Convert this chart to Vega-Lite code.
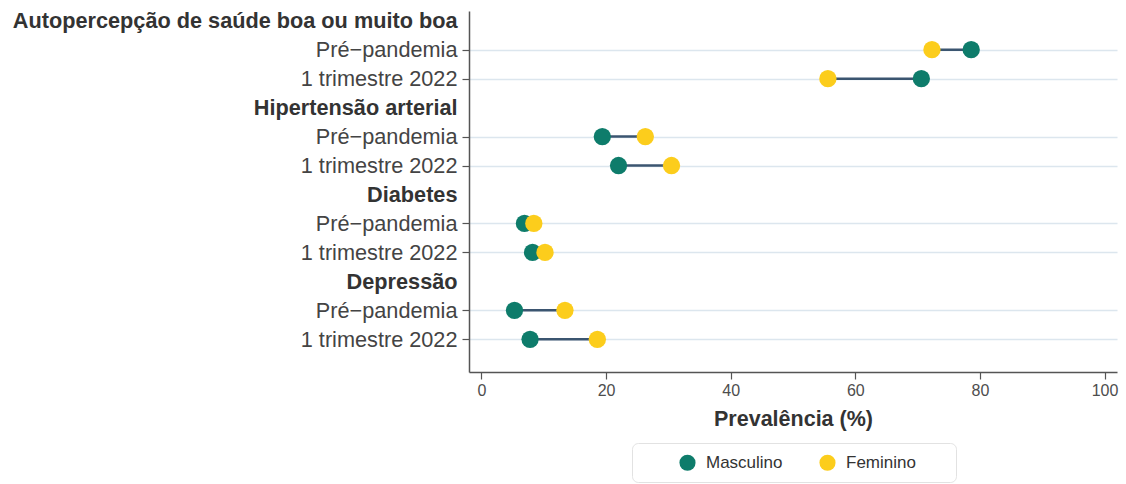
{
  "$schema": "https://vega.github.io/schema/vega-lite/v6.json",
  "width": 648,
  "height": 361,
  "autosize": {"type": "none"},
  "padding": {"left": 469, "top": 11, "right": 9, "bottom": 112},
  "background": "white",
  "config": {
    "view": {"stroke": null},
    "font": "Liberation Sans"
  },
  "data": {
    "values": [
      {"row": "Autopercepção|Pré−pandemia", "sexo": "Masculino", "value": 78.6},
      {"row": "Autopercepção|1 trimestre 2022", "sexo": "Masculino", "value": 70.6},
      {"row": "Hipertensão|Pré−pandemia", "sexo": "Masculino", "value": 19.4},
      {"row": "Hipertensão|1 trimestre 2022", "sexo": "Masculino", "value": 22.0},
      {"row": "Diabetes|Pré−pandemia", "sexo": "Masculino", "value": 6.9},
      {"row": "Diabetes|1 trimestre 2022", "sexo": "Masculino", "value": 8.2},
      {"row": "Depressão|Pré−pandemia", "sexo": "Masculino", "value": 5.3},
      {"row": "Depressão|1 trimestre 2022", "sexo": "Masculino", "value": 7.8},
      {"row": "Autopercepção|Pré−pandemia", "sexo": "Feminino", "value": 72.3},
      {"row": "Autopercepção|1 trimestre 2022", "sexo": "Feminino", "value": 55.6},
      {"row": "Hipertensão|Pré−pandemia", "sexo": "Feminino", "value": 26.3},
      {"row": "Hipertensão|1 trimestre 2022", "sexo": "Feminino", "value": 30.5},
      {"row": "Diabetes|Pré−pandemia", "sexo": "Feminino", "value": 8.4},
      {"row": "Diabetes|1 trimestre 2022", "sexo": "Feminino", "value": 10.2},
      {"row": "Depressão|Pré−pandemia", "sexo": "Feminino", "value": 13.4},
      {"row": "Depressão|1 trimestre 2022", "sexo": "Feminino", "value": 18.6}
    ]
  },
  "encoding": {
    "y": {
      "field": "row",
      "type": "nominal",
      "scale": {
        "type": "point",
        "domain": [
          "Autopercepção de saúde boa ou muito boa",
          "Autopercepção|Pré−pandemia",
          "Autopercepção|1 trimestre 2022",
          "Hipertensão arterial",
          "Hipertensão|Pré−pandemia",
          "Hipertensão|1 trimestre 2022",
          "Diabetes",
          "Diabetes|Pré−pandemia",
          "Diabetes|1 trimestre 2022",
          "Depressão",
          "Depressão|Pré−pandemia",
          "Depressão|1 trimestre 2022"
        ],
        "padding": 0.732,
        "align": 0.229
      },
      "axis": {
        "title": null,
        "labelExpr": "indexof(datum.value, '|') >= 0 ? split(datum.value, '|')[1] : datum.value",
        "labelFontSize": 21.7,
        "labelFontWeight": {"condition": {"test": "indexof(datum.value, '|') < 0", "value": "bold"}, "value": "normal"},
        "labelColor": {"condition": {"test": "indexof(datum.value, '|') < 0", "value": "#333333"}, "value": "#444444"},
        "labelPadding": 5,
        "labelLimit": 600,
        "tickSize": 7,
        "tickColor": "#555555",
        "tickWidth": 1.2,
        "tickOpacity": {"condition": {"test": "indexof(datum.value, '|') < 0", "value": 0}, "value": 1},
        "domainColor": "#555555",
        "domainWidth": 1.5,
        "grid": true,
        "gridColor": "#dce6ee",
        "gridWidth": 1.5,
        "gridOpacity": {"condition": {"test": "indexof(datum.value, '|') < 0", "value": 0}, "value": 1}
      }
    }
  },
  "layer": [
    {
      "transform": [
        {"pivot": "sexo", "value": "value", "groupby": ["row"]}
      ],
      "mark": {"type": "rule", "color": "#3b5570", "strokeWidth": 2.5},
      "encoding": {
        "x": {"field": "Masculino", "type": "quantitative"},
        "x2": {"field": "Feminino"}
      }
    },
    {
      "mark": {"type": "circle", "size": 300, "opacity": 1},
      "encoding": {
        "x": {
          "field": "value",
          "type": "quantitative",
          "scale": {"domain": [-2, 102], "nice": false, "zero": false},
          "axis": {
            "title": "Prevalência (%)",
            "values": [0, 20, 40, 60, 80, 100],
            "grid": false,
            "labelFontSize": 16,
            "labelColor": "#4d4d4d",
            "labelPadding": 3,
            "tickSize": 7,
            "tickColor": "#555555",
            "tickWidth": 1.2,
            "domainColor": "#555555",
            "domainWidth": 1.5,
            "titleFontSize": 21.5,
            "titleFontWeight": "bold",
            "titleColor": "#333333",
            "titlePadding": 10
          }
        },
        "color": {
          "field": "sexo",
          "type": "nominal",
          "scale": {"domain": ["Masculino", "Feminino"], "range": ["#0e7c6b", "#fccd1c"]},
          "legend": {
            "title": null,
            "orient": "none",
            "legendX": 163,
            "legendY": 432,
            "direction": "horizontal",
            "symbolType": "circle",
            "symbolSize": 260,
            "symbolStrokeWidth": 0,
            "symbolOffset": 36,
            "labelExpr": "datum.label == 'Feminino' ? 'Feminino      \u200b' : datum.label",
            "labelFontSize": 17,
            "labelColor": "#333333",
            "labelOffset": 10,
            "columnPadding": -15,
            "padding": 11,
            "strokeColor": "#e2e2e2",
            "fillColor": "white",
            "cornerRadius": 6
          }
        }
      }
    }
  ]
}
